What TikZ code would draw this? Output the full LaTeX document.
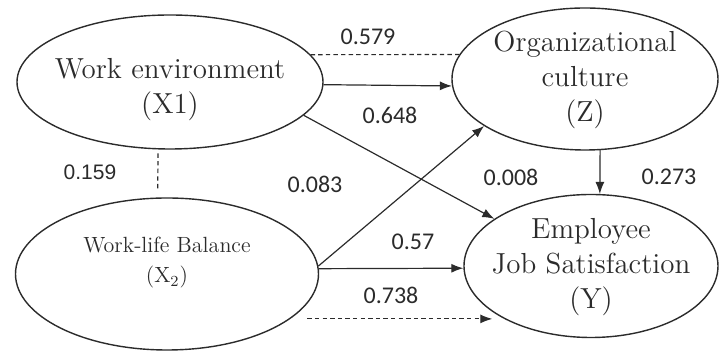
\documentclass[tikz,border=0pt]{standalone}
\usepackage{fontspec}
\newfontfamily\numfont{Carlito}
\newfontfamily\arialfont{Liberation Sans}
\usetikzlibrary{arrows.meta,shapes.geometric}
\definecolor{ink}{HTML}{2B2B2B}

\begin{document}
\begin{tikzpicture}[
  x=0.5pt,y=-0.5pt,
  latent/.style={draw=ink,ellipse,line width=0.7pt,inner sep=0pt},
  cname/.style={align=center,font=\fontsize{14.5}{17.5}\selectfont,text=ink},
  coef/.style={font=\numfont\fontsize{12}{14}\selectfont,text=ink},
  flow/.style={-{Latex[length=6pt,width=4.5pt]},draw=ink,line width=0.6pt},
  dflow/.style={flow,dash pattern=on 2.2pt off 1.6pt},
  corr/.style={draw=ink,line width=0.6pt,dash pattern=on 2.2pt off 1.6pt},
]
\useasboundingbox (0,0) rectangle (720,351);

% --- constructs
\node[latent,minimum width=153pt,minimum height=67pt] (x1) at (170,82) {};
\node[cname] (x1t) at (170,90) {Work environment\\(X1)};

\node[latent,minimum width=133pt,minimum height=71pt] (z) at (585,79) {};
\node[cname] (zt) at (585,80) {Organizational\\culture\\(Z)};

\node[latent,minimum width=151.5pt,minimum height=76pt] (x2) at (167,274) {};
\node[cname,font=\fontsize{11}{15}\selectfont] (x2t) at (167,263) {Work-life Balance\\(X\textsubscript{2})};

\node[latent,minimum width=127pt,minimum height=71.5pt] (y) at (591,266) {};
\node[cname] (yt) at (591,267) {Employee\\Job Satisfaction\\(Y)};

% --- paths
\draw[corr] (x1.11) -- (z.169);
\draw[flow] (x1.-1) -- (z.183);
\draw[flow] (x1.-14) -- (y.154);
\draw[flow] (x2.3) -- (z.205);
\draw[flow] (x2.2) -- (y.181);
\draw[dflow,shorten <=8.5pt,shorten >=6.5pt] (x2.-20) -- (x2.-20 -| y.212);
\draw[flow] (z.-78) -- (y.83);
\draw[corr,shorten <=2pt,shorten >=3pt] (x1.-100) -- (x2.97);

% --- coefficients
\node[coef] (c579) at (368,37) {0.579};
\node[coef] (c648) at (390,115) {0.648};
\node[coef] (c083) at (315,184) {0.083};
\node[coef] (c008) at (511,177) {0.008};
\node[coef] (c273) at (669,177) {0.273};
\node[coef] (c57) at (413,242) {0.57};
\node[coef] (c738) at (391,295) {0.738};
\node[coef,font=\arialfont\fontsize{10.5}{12}\selectfont] (c159) at (90,172) {0.159};
\end{tikzpicture}
\end{document}
